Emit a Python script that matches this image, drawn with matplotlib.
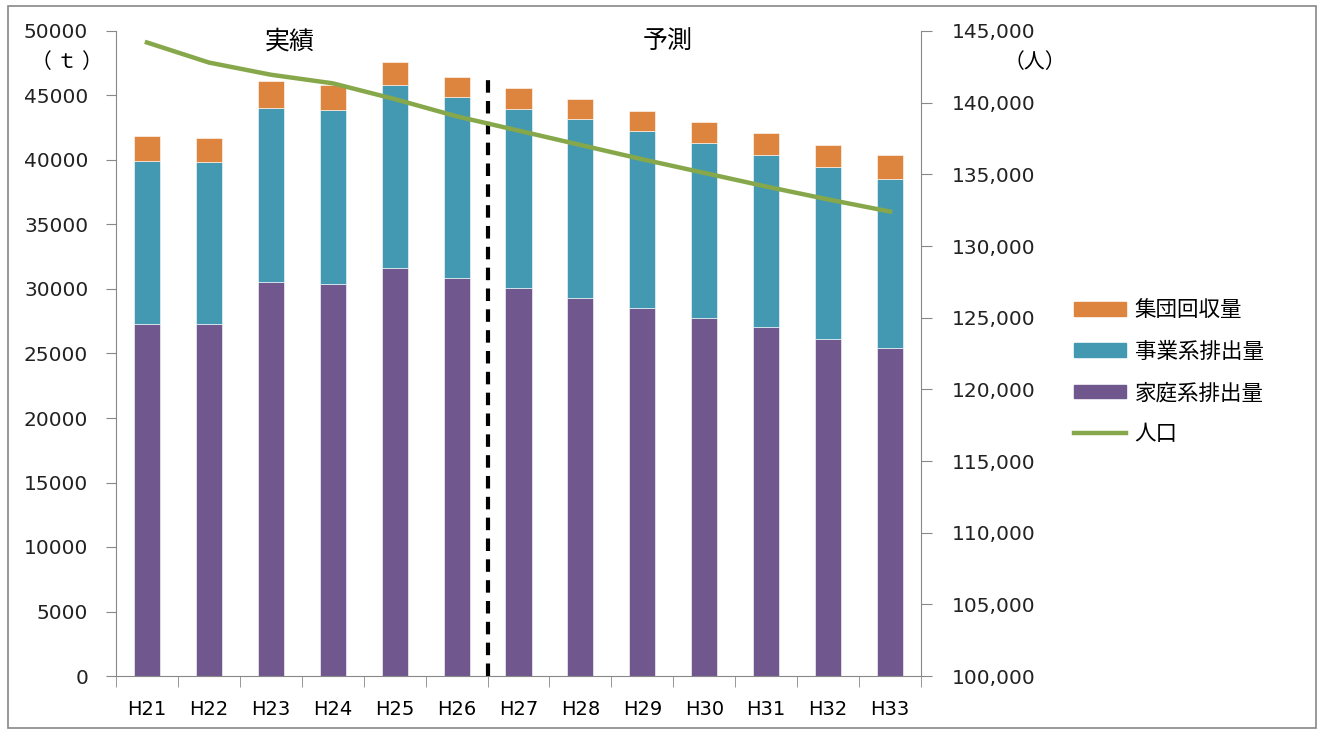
import numpy as np
import matplotlib.pyplot as plt
from matplotlib.patches import Rectangle
from matplotlib.lines import Line2D
from matplotlib.ticker import FuncFormatter

plt.rcParams['font.family'] = ['DejaVu Sans', 'Noto Sans CJK JP']

years = ['H21', 'H22', 'H23', 'H24', 'H25', 'H26', 'H27',
         'H28', 'H29', 'H30', 'H31', 'H32', 'H33']
household = [27300, 27300, 30550, 30400, 31650, 30850, 30100,
             29300, 28550, 27750, 27050, 26150, 25450]
business = [12600, 12550, 13500, 13450, 14150, 14050, 13850,
            13900, 13700, 13550, 13350, 13300, 13100]
group = [1950, 1850, 2100, 2000, 1800, 1550, 1650,
         1550, 1550, 1650, 1700, 1700, 1850]
population = [144200, 142800, 141950, 141350, 140250, 139050, 138050,
              137050, 136050, 135100, 134150, 133250, 132400]

c_group = '#DD843F'
c_bus = '#4399B1'
c_home = '#70588F'
c_pop = '#86A84A'
jp = ['Noto Sans CJK JP', 'DejaVu Sans']


def main():
    fig = plt.figure(figsize=(13.22, 7.31), dpi=100)
    ax = fig.add_axes([116 / 1322, 1 - 676 / 731, 805 / 1322, 645 / 731])
    x = np.arange(len(years))
    w = 0.42
    home = np.array(household)
    bus = np.array(business)
    ax.bar(x, home, w, color=c_home, edgecolor='#ffffff', linewidth=0.4, zorder=2)
    ax.bar(x, bus, w, bottom=home, color=c_bus, edgecolor='#ffffff', linewidth=0.4, zorder=2)
    ax.bar(x, group, w, bottom=home + bus, color=c_group, edgecolor='#ffffff', linewidth=0.4, zorder=2)

    ax.set_xlim(-0.5, len(years) - 0.5)
    ax.set_ylim(0, 50000)
    ax.set_yticks(np.arange(0, 50001, 5000))
    ax.set_xticks(x)
    ax.set_xticklabels(years, fontsize=14)
    ax.set_xticks(np.arange(-0.5, len(years)), minor=True)
    ax.tick_params(axis='x', which='major', length=0, pad=17)
    ax.tick_params(axis='x', which='minor', length=8, color='#888888', direction='out')
    ax.tick_params(axis='y', length=7, color='#888888', pad=13, labelsize=14.5, labelcolor='#222222')
    for s in ['top', 'right']:
        ax.spines[s].set_visible(False)
    for s in ['left', 'bottom']:
        ax.spines[s].set_color('#888888')

    ax.vlines(5.5, 0, 46500, colors='black', linestyles=(0, (3, 2)), linewidth=3, zorder=5)

    ax2 = ax.twinx()
    ax2.plot(x, population, color=c_pop, linewidth=3.2, zorder=3)
    ax2.set_ylim(100000, 145000)
    ax2.set_yticks(np.arange(100000, 145001, 5000))
    ax2.yaxis.set_major_formatter(FuncFormatter(lambda v, p: f'{int(v):,}'))
    ax2.tick_params(axis='y', length=8, color='#888888', pad=14, labelsize=14.5, labelcolor='#222222')
    for s in ['top', 'left', 'bottom']:
        ax2.spines[s].set_visible(False)
    ax2.spines['right'].set_color('#888888')

    fig.text(290 / 1322, 1 - 42 / 731, '実績', fontsize=18, family=jp, ha='center', va='center')
    fig.text(668 / 1322, 1 - 42 / 731, '予測', fontsize=18, family=jp, ha='center', va='center')
    fig.text(67 / 1322, 1 - 62 / 731, '（ ｔ ）', fontsize=15, family=jp, ha='center', va='center')
    fig.text(1035 / 1322, 1 - 62 / 731, '（人）', fontsize=15, family=jp, ha='center', va='center')

    handles = [Rectangle((0, 0), 1, 1, color=c_group),
               Rectangle((0, 0), 1, 1, color=c_bus),
               Rectangle((0, 0), 1, 1, color=c_home),
               Line2D([0], [0], color=c_pop, linewidth=3.2)]
    labels = ['集団回収量', '事業系排出量', '家庭系排出量', '人口']
    fig.legend(handles, labels, loc='upper left', bbox_to_anchor=(1055 / 1322, 1 - 280 / 731),
               frameon=False, prop={'family': jp, 'size': 15.5},
               handlelength=2.4, handleheight=0.6, handletextpad=0.4, labelspacing=0.9)

    fig.add_artist(Rectangle((8 / 1322, 3 / 731), 1308 / 1322, 722 / 731,
                             transform=fig.transFigure, fill=False,
                             edgecolor='#888888', linewidth=1.2))

    fig.savefig('out.png', dpi=100)


if __name__ == '__main__':
    main()
